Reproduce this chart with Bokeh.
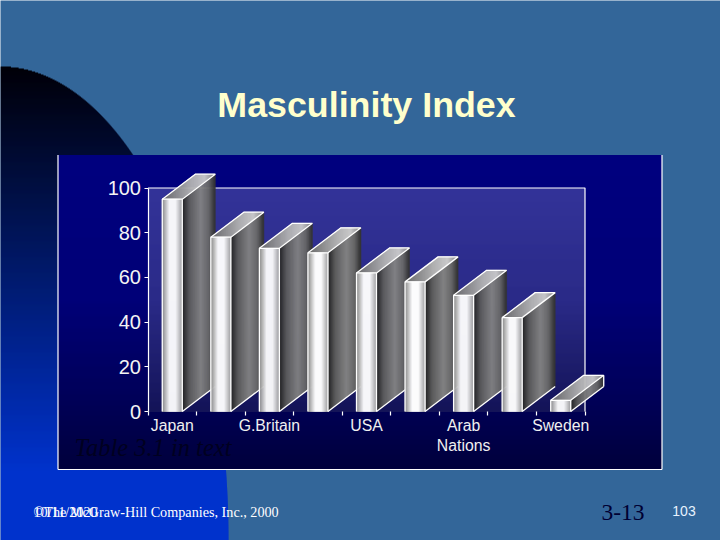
import numpy as np
from bokeh.embed import file_html
from bokeh.resources import INLINE
from bokeh.plotting import figure
from bokeh.models import Range1d, FixedTicker, AllLabels, Label

# ---- chart data ----
categories = ["Japan", "", "G.Britain", "", "USA", "", "Arab\nNations", "", "Sweden"]
values = [95, 78, 73, 71, 62, 58, 52, 42, 5]
y_ticks = [0, 20, 40, 60, 80, 100]
title = "Masculinity Index"
note = "Table 3.1 in text"
footer_date = "10/11/2020"
footer_copy = "\u00a9The McGraw-Hill Companies, Inc., 2000"
slide_code = "3-13"
slide_number = "103"

# ---- page geometry (pixels of the 720x540 slide) ----
W, H = 720, 540
PLOT_L, PLOT_R, PLOT_T, PLOT_B = 147.5, 584.5, 187.5, 411.0
CAT_W = (PLOT_R - PLOT_L) / len(categories)
X0_PX = PLOT_L + CAT_W / 2
Y_PER_PX = 100 / (PLOT_B - PLOT_T)
BAR_W = 20 / CAT_W
DEPTH_X = 33 / CAT_W
DEPTH_Y = 25 * Y_PER_PX
SLOPE = DEPTH_Y / DEPTH_X

p = figure(width=W, height=H, output_backend="svg", toolbar_location=None,
           min_border=0,
           x_range=Range1d((0 - X0_PX) / CAT_W, (W - X0_PX) / CAT_W),
           y_range=Range1d((PLOT_B - H) * Y_PER_PX, PLOT_B * Y_PER_PX),
           background_fill_color="#336699", border_fill_color="#336699",
           outline_line_color=None)
p.extra_x_ranges["px"] = Range1d(0, W)
p.extra_y_ranges["px"] = Range1d(H, 0)
p.xgrid.visible = False
p.ygrid.visible = False


def ramp(stops, t):
    pos = [s[0] for s in stops]
    r = np.interp(t, pos, [int(s[1][1:3], 16) for s in stops])
    g = np.interp(t, pos, [int(s[1][3:5], 16) for s in stops])
    b = np.interp(t, pos, [int(s[1][5:7], 16) for s in stops])
    return ["#%02x%02x%02x" % (int(a), int(c), int(d)) for a, c, d in zip(r, g, b)]


def px_rows(left, right, top, bottom, colors):
    """One quad per pixel row, slightly overlapped, in page pixels."""
    n = len(colors)
    ys = np.linspace(top, bottom, n + 1)
    p.quad(left=left, right=right, top=ys[:-1], bottom=ys[1:] + 0.4, fill_color=colors,
           line_color=None, x_range_name="px", y_range_name="px")


# corner ellipse, dark at the top and bright blue at the bottom
rows = np.arange(66, 540, 1.0)
ell_right = 228 * np.sqrt(np.clip(1 - ((540 - (rows + 0.5)) / 474) ** 2, 0, 1))
ell_col = ramp([(66, "#000008"), (470, "#0033cc"), (540, "#0033cc")], rows)
p.quad(left=0, right=ell_right, top=rows, bottom=rows + 1.4, fill_color=ell_col,
       line_color=None, x_range_name="px", y_range_name="px")

# chart panel
panel_rows = np.arange(154.5, 469.0, 1.0)
px_rows(57.5, 661.5, 154.5, 469,
        ramp([(154, "#00007f"), (300, "#000078"), (400, "#000058"), (469, "#00003c")], panel_rows))
for xs, ys in [([57.5, 57.5], [154.5, 469]), ([57.5, 661.5], [469, 469]), ([661.5, 661.5], [469, 154.5])]:
    p.line(xs, ys, line_color="#ffffff", line_width=1.2, x_range_name="px", y_range_name="px")

# plot area
plot_rows = np.arange(PLOT_T, PLOT_B, 1.0)
px_rows(PLOT_L, PLOT_R, PLOT_T, PLOT_B,
        ramp([(187, "#333399"), (300, "#2b2b88"), (411, "#141458")], plot_rows))
p.line([PLOT_L, PLOT_R, PLOT_R], [PLOT_T, PLOT_T, PLOT_B], line_color="#ffffff", line_width=1.2,
       x_range_name="px", y_range_name="px")

FRONT = [(0, "#909090"), (0.35, "#ffffff"), (0.65, "#ffffff"), (1, "#a0a0a0")]
SIDE = [(0, "#242424"), (0.2, "#5c5c5c"), (0.55, "#848484"), (0.8, "#686868"), (1, "#2c2c2c")]
TOP = [(0, "#6c6c6c"), (0.55, "#b4b4b4"), (0.8, "#cccccc"), (1, "#808080")]

n_front, n_side, n_top = 20, 33, 53

for i, v in enumerate(values):
    x0 = i - BAR_W / 2
    x1 = i + BAR_W / 2
    xs_list, ys_list, cols = [], [], []

    # top face
    tx = np.linspace(x0, x1 + DEPTH_X, n_top + 1)
    tc = ramp(TOP, (tx[:-1] - x0) / (x1 + DEPTH_X - x0))
    low = lambda x: v + np.maximum(x - x1, 0) * SLOPE
    up = lambda x: v + np.minimum(x - x0, DEPTH_X) * SLOPE
    for a, b, c in zip(tx[:-1], tx[1:], tc):
        xs_list.append([a, b, b, a])
        ys_list.append([low(a), low(b), up(b), up(a)])
        cols.append(c)

    # side face
    sx = np.linspace(x1, x1 + DEPTH_X, n_side + 1)
    sc = ramp(SIDE, (sx[:-1] - x1) / DEPTH_X)
    for a, b, c in zip(sx[:-1], sx[1:], sc):
        xs_list.append([a, b, b, a])
        ys_list.append([(a - x1) * SLOPE, (b - x1) * SLOPE, v + (b - x1) * SLOPE, v + (a - x1) * SLOPE])
        cols.append(c)

    # front face
    fx = np.linspace(x0, x1, n_front + 1)
    fc = ramp(FRONT, (fx[:-1] - x0) / (x1 - x0))
    for a, b, c in zip(fx[:-1], fx[1:], fc):
        xs_list.append([a, b, b, a])
        ys_list.append([0, 0, v, v])
        cols.append(c)

    p.patches(xs_list, ys_list, fill_color=cols, line_color=cols, line_width=0.6)

    # white edges
    ex = [[x0, x0, x1, x1], [x0, x0 + DEPTH_X, x1 + DEPTH_X, x1], [x1, x1 + DEPTH_X]]
    ey = [[0, v, v, 0], [v, v + DEPTH_Y, v + DEPTH_Y, v], [0, DEPTH_Y]]
    if v < 10:
        ex.append([x1 + DEPTH_X, x1 + DEPTH_X])
        ey.append([DEPTH_Y, v + DEPTH_Y])
    p.multi_line(ex, ey, line_color="#ffffff", line_width=1.3)

# axes
yax = p.yaxis[0]
yax.fixed_location = -0.5
yax.bounds = (0, 100)
yax.ticker = FixedTicker(ticks=y_ticks)
yax.minor_tick_line_color = None
yax.major_tick_in = 0
yax.major_tick_out = 4
yax.major_tick_line_color = "#ffffff"
yax.major_tick_line_width = 1.2
yax.axis_line_color = "#ffffff"
yax.axis_line_width = 1.2
yax.major_label_text_color = "#f4f4f4"
yax.major_label_text_font = "Liberation Sans"
yax.major_label_text_font_size = "20px"
yax.major_label_standoff = 3

xax = p.xaxis[0]
xax.fixed_location = 0
xax.bounds = (-0.5, len(categories) - 0.5)
xax.ticker = FixedTicker(ticks=list(range(len(categories))),
                         minor_ticks=[i - 0.5 for i in range(len(categories) + 1)])
xax.major_label_overrides = {i: c for i, c in enumerate(categories)}
xax.major_label_policy = AllLabels()
xax.major_tick_line_color = None
xax.major_tick_in = 0
xax.major_tick_out = 4
xax.minor_tick_line_color = "#ffffff"
xax.minor_tick_line_width = 1.2
xax.minor_tick_in = 0
xax.minor_tick_out = 4
xax.axis_line_color = None
xax.major_label_text_color = "#f0f0f0"
xax.major_label_text_font = "Liberation Sans"
xax.major_label_text_font_size = "15.8px"
xax.major_label_standoff = 1


def text(s, x, y, font, size, color, align="left", style="normal"):
    p.add_layout(Label(x=x, y=y, text=s, x_range_name="px", y_range_name="px",
                       text_font=font, text_font_size=size, text_color=color,
                       text_align=align, text_baseline="middle", text_font_style=style))


text(title, 366, 104, "Liberation Sans", "35.8px", "#ffffcc", "center", "bold")
text(note, 74, 447, "Liberation Serif", "24.5px", "#000020", "left", "italic")
text(footer_date, 33, 511, "Liberation Serif", "14.2px", "#ffffff")
text(footer_copy, 33, 511, "Liberation Serif", "14.2px", "#ffffff")
text(slide_code, 622.5, 512, "Liberation Serif", "23.5px", "#000033", "center")
text(slide_number, 683.5, 510, "Liberation Sans", "14px", "#e6f2ff", "center")

open("out.html", "w").write(file_html(p, INLINE))
